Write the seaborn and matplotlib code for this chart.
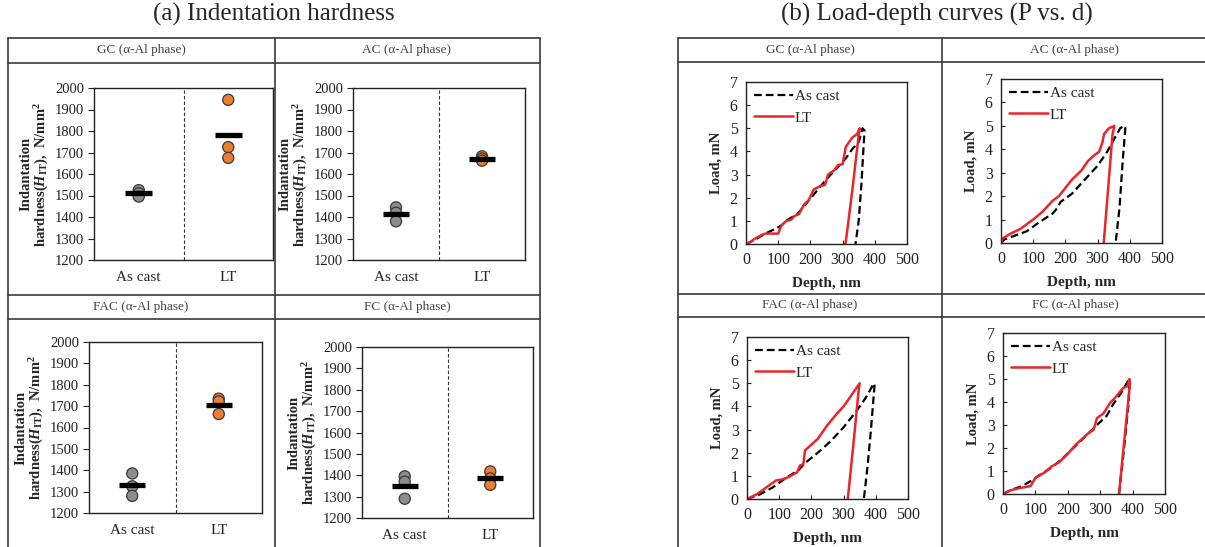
import numpy as np
import pandas as pd
import seaborn as sns
import matplotlib.pyplot as plt
from matplotlib.lines import Line2D

# ---- hardness data (N/mm^2), three indents per condition ----
panels = ['GC', 'AC', 'FAC', 'FC']
conditions = ['As cast', 'LT']
hard_as_cast = {
    'GC': [1525, 1510, 1495],
    'AC': [1445, 1420, 1380],
    'FAC': [1385, 1325, 1280],
    'FC': [1395, 1370, 1290],
}
hard_lt = {
    'GC': [1945, 1725, 1675],
    'AC': [1682, 1672, 1662],
    'FAC': [1735, 1722, 1663],
    'FC': [1418, 1385, 1355],
}

# ---- load-depth curves: depth (nm), load (mN) ----
depth_as_cast = {
    'GC': [0, 30, 60, 90, 110, 130, 160, 190, 220, 250, 280, 310, 330, 350, 362, 368, 358, 350, 340],
    'AC': [0, 10, 50, 80, 120, 160, 175, 185, 220, 260, 300, 330, 350, 370, 384, 386, 378, 368, 356],
    'FAC': [0, 40, 80, 120, 160, 180, 220, 260, 300, 340, 370, 394, 396, 385, 375, 363],
    'FC': [0, 30, 60, 90, 110, 150, 180, 210, 250, 290, 320, 340, 365, 385, 390, 388, 370, 358],
}
load_as_cast = {
    'GC': [0, 0.2, 0.45, 0.65, 0.8, 1.05, 1.3, 1.8, 2.3, 2.8, 3.25, 3.7, 4.1, 4.4, 5.0, 4.9, 2.5, 1.0, 0],
    'AC': [0, 0.15, 0.35, 0.5, 0.9, 1.25, 1.5, 1.75, 2.1, 2.7, 3.3, 3.9, 4.4, 4.9, 5.0, 4.9, 3.5, 1.5, 0],
    'FAC': [0, 0.2, 0.5, 0.9, 1.25, 1.55, 2.0, 2.5, 3.1, 3.8, 4.4, 5.0, 4.9, 3.0, 1.5, 0],
    'FC': [0, 0.2, 0.35, 0.6, 0.8, 1.15, 1.5, 1.9, 2.45, 3.0, 3.4, 3.9, 4.4, 4.9, 5.0, 4.0, 1.5, 0],
}
depth_lt = {
    'GC': [0, 15, 30, 50, 60, 100, 110, 125, 140, 150, 165, 180, 195, 210, 230, 245, 255, 275,
           285, 300, 310, 330, 345, 353, 350, 330, 309],
    'AC': [0, 5, 30, 60, 100, 130, 160, 180, 200, 220, 250, 270, 290, 305, 315, 320, 335, 352,
           346, 332, 319],
    'FAC': [0, 30, 60, 90, 110, 130, 155, 165, 175, 180, 200, 220, 250, 280, 300, 320, 340, 350,
            346, 330, 313],
    'FC': [0, 20, 50, 85, 100, 130, 150, 175, 200, 225, 260, 280, 290, 310, 330, 350, 370, 385,
           390, 392, 372, 358],
}
load_lt = {
    'GC': [0, 0.1, 0.25, 0.4, 0.45, 0.45, 0.8, 1.0, 1.05, 1.2, 1.3, 1.7, 1.9, 2.35, 2.5, 2.55, 3.0, 3.2,
           3.4, 3.45, 4.2, 4.6, 4.75, 5.0, 4.7, 2.3, 0],
    'AC': [0, 0.2, 0.4, 0.6, 1.0, 1.35, 1.8, 2.0, 2.35, 2.7, 3.1, 3.5, 3.75, 3.9, 4.3, 4.65, 4.9, 5.0,
           4.6, 2.2, 0],
    'FAC': [0, 0.2, 0.5, 0.8, 0.85, 0.95, 1.15, 1.45, 1.5, 2.1, 2.35, 2.6, 3.2, 3.7, 4.0, 4.4, 4.8, 5.0,
            4.6, 2.3, 0],
    'FC': [0, 0.15, 0.25, 0.35, 0.7, 0.95, 1.2, 1.4, 1.75, 2.15, 2.6, 2.8, 3.3, 3.5, 3.95, 4.25, 4.6, 4.7,
           5.0, 4.8, 2.0, 0],
}

W, H = 1205, 547
sns.set_style('ticks')
plt.rcParams['font.family'] = ['Liberation Serif', 'DejaVu Serif']
plt.rcParams['mathtext.fontset'] = 'custom'
plt.rcParams['mathtext.rm'] = 'Liberation Serif:bold'
plt.rcParams['mathtext.it'] = 'Liberation Serif:italic:bold'
plt.rcParams['mathtext.bf'] = 'Liberation Serif:bold'

fig = plt.figure(figsize=(W / 100, H / 100), dpi=100)


def rect(x0, y0, x1, y1):
    return [x0 / W, 1 - y1 / H, (x1 - x0) / W, (y1 - y0) / H]


def line(x0, y0, x1, y1, lw=1.2, color='#3a3a3a'):
    fig.add_artist(Line2D([x0 / W, x1 / W], [1 - y0 / H, 1 - y1 / H],
                          transform=fig.transFigure, color=color, lw=lw))


def ftext(x, y, s, **kw):
    fig.text(x / W, 1 - y / H, s, ha='center', va='center', **kw)


# ---- table frames ----
for y in [38, 63, 295, 319]:
    line(8, y, 540, y)
for x in [8, 275, 540]:
    line(x, 38, x, 547)
for y in [38, 62, 294, 317]:
    line(678, y, 1205, y)
for x in [678, 942]:
    line(x, 38, x, 547)

ftext(274, 14, '(a) Indentation hardness', fontsize=18)
ftext(937, 14, '(b) Load-depth curves (P vs. d)', fontsize=18)

hdr_a = {'GC': (141, 50), 'AC': (407, 50), 'FAC': (141, 307), 'FC': (407, 307)}
hdr_b = {'GC': (810, 50), 'AC': (1075, 50), 'FAC': (810, 305), 'FC': (1075, 305)}
for p in panels:
    ftext(*hdr_a[p], f'{p} (α-Al phase)', fontsize=9.5, color='#444444')
    ftext(*hdr_b[p], f'{p} (α-Al phase)', fontsize=9.5, color='#444444')

# ---- (a) hardness strip plots ----
box_a = {'GC': (94, 88, 273, 260), 'AC': (353, 88, 525, 260),
         'FAC': (89, 342, 262, 513), 'FC': (362, 347, 533, 518)}
pal = {'As cast': '#8c8c8c', 'LT': '#ed7d31'}
for p in panels:
    ax = fig.add_axes(rect(*box_a[p]))
    df = pd.DataFrame({
        'cond': ['As cast'] * 3 + ['LT'] * 3,
        'hard': hard_as_cast[p] + hard_lt[p],
    })
    sns.stripplot(data=df, x='cond', y='hard', hue='cond', order=conditions, palette=pal,
                  jitter=False, size=8, linewidth=0.9, edgecolor='#3a3a3a',
                  legend=False, ax=ax, zorder=2)
    means = df.groupby('cond')['hard'].mean()
    for i, c in enumerate(conditions):
        ax.hlines(means[c], i - 0.15, i + 0.15, color='black', lw=3.8, zorder=3)
    ax.axvline(0.5, color='#333333', ls='--', lw=0.8, dashes=(3, 2))
    ax.set_xlim(-0.5, 1.5)
    ax.set_ylim(1200, 2000)
    ax.set_yticks(np.arange(1200, 2001, 100))
    ax.set_xlabel('')
    ax.set_ylabel('Indantation\nhardness($H_{\\mathrm{IT}}$),  N/mm$^2$', fontsize=10.5,
                  fontweight='bold', labelpad=3, linespacing=1.0)
    ax.tick_params(axis='y', labelsize=10.5, length=4, width=0.8, pad=3, colors='#222222')
    ax.tick_params(axis='x', labelsize=11, length=0, pad=8)
    for s in ax.spines.values():
        s.set_color('#222222')
        s.set_linewidth(1.0)

# ---- (b) load-depth curves ----
box_b = {'GC': (746, 82, 907, 244), 'AC': (1001, 79, 1162, 243),
         'FAC': (747, 337, 908, 499), 'FC': (1003, 333, 1165, 494)}
for p in panels:
    ax = fig.add_axes(rect(*box_b[p]))
    sns.lineplot(x=depth_as_cast[p], y=load_as_cast[p], sort=False, estimator=None,
                 color='black', lw=1.6, ax=ax, label='As cast')
    ax.lines[-1].set_dashes((3.5, 1.8))
    sns.lineplot(x=depth_lt[p], y=load_lt[p], sort=False, estimator=None,
                 color='#e8262b', lw=1.8, ax=ax, label='LT')
    ax.set_xlim(0, 500)
    ax.set_ylim(0, 7)
    ax.set_xticks(np.arange(0, 501, 100))
    ax.set_yticks(np.arange(0, 8, 1))
    ax.set_xlabel('Depth, nm', fontsize=11, fontweight='bold', labelpad=6)
    ax.set_ylabel('Load, mN', fontsize=10.5, fontweight='bold', labelpad=5)
    ax.tick_params(labelsize=11.5, direction='in', length=3, width=0.8, pad=6, colors='#222222')
    ax.legend(loc='upper left', frameon=False, fontsize=11, handlelength=2.6,
              handletextpad=0.1, labelspacing=0.5, borderaxespad=0.2, borderpad=0.3)
    for s in ax.spines.values():
        s.set_color('#222222')
        s.set_linewidth(1.0)

fig.savefig('out.png', dpi=100)
